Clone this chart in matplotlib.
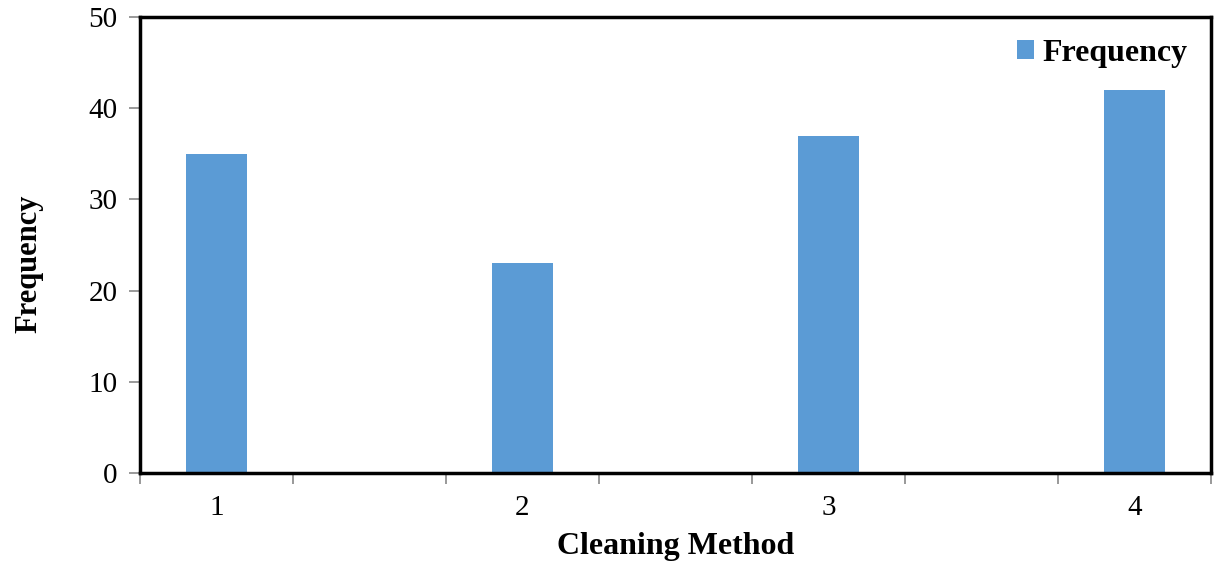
import matplotlib.pyplot as plt
from matplotlib.patches import Patch

methods = [1, 2, 3, 4]
frequency = [35, 23, 37, 42]
y_ticks = [0, 10, 20, 30, 40, 50]

plt.rcParams['font.family'] = ['Liberation Serif', 'DejaVu Serif']

fig = plt.figure(figsize=(12.2, 5.69), dpi=100)
ax = fig.add_axes([140 / 1220, 1 - 473 / 569, 1071 / 1220, 456 / 569])

bar_color = '#5B9BD5'
ax.bar(methods, frequency, width=0.2, color=bar_color, zorder=2)

ax.set_xlim(0.75, 4.25)
ax.set_ylim(0, 50)
ax.set_yticks(y_ticks)
ax.set_yticklabels([str(v) for v in y_ticks], fontsize=21)

# category labels at centres, tick marks at category boundaries
ax.set_xticks(methods)
ax.set_xticklabels([str(m) for m in methods], fontsize=21)
ax.tick_params(axis='x', which='major', length=0, pad=16)
ax.set_xticks([0.75 + 0.5 * i for i in range(8)], minor=True)
ax.tick_params(axis='x', which='minor', length=8, width=1.2, color='#888888', direction='out')
ax.tick_params(axis='y', length=8, width=1.2, color='#888888', direction='out', pad=8)

for s in ax.spines.values():
    s.set_linewidth(2.5)
    s.set_color('black')

ax.set_xlabel('Cleaning Method', fontsize=23, fontweight='bold', labelpad=8)
ax.set_ylabel('Frequency', fontsize=22, fontweight='bold')
ax.yaxis.set_label_coords(-0.09, 0.458)

handle = Patch(facecolor=bar_color, edgecolor='none')
ax.legend([handle], ['Frequency'], loc='upper right', frameon=False,
          prop={'size': 23, 'weight': 'bold'}, handlelength=0.55, handleheight=0.55,
          handletextpad=0.25, borderaxespad=0.4, bbox_to_anchor=(1.002, 1.008))

fig.savefig('out.png', dpi=100)
